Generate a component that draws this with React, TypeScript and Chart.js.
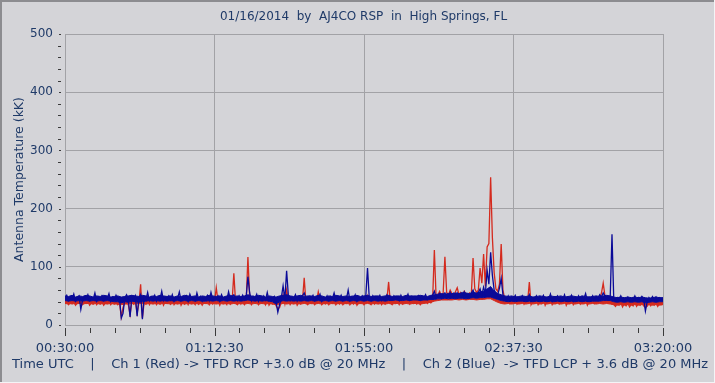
import React, { useEffect, useRef } from "react";
import { Chart, registerables } from "chart.js";

Chart.register(...registerables);

// ---- Data ----
const TITLE = "01/16/2014  by  AJ4CO RSP  in  High Springs, FL";
const CAPTION =
  "Time UTC    |    Ch 1 (Red) -> TFD RCP +3.0 dB @ 20 MHz    |    Ch 2 (Blue)  -> TFD LCP + 3.6 dB @ 20 MHz";
const Y_TITLE = "Antenna Temperature (kK)";

// minutes after 00:30:00 UTC of the labelled x ticks
const xMajorMinutes = [0, 42.5, 85, 127.5, 170];
const xTickLabels = ["00:30:00", "01:12:30", "01:55:00", "02:37:30", "03:20:00"];
const xMinorPerMajor = 6;

const yMin = 0;
const yMax = 500;
const yMinorStep = 20;
const yLabelStep = 100;

// trace samples: one every half minute, starting at 00:30:00
const SAMPLE_STEP_MIN = 0.5;
// noise band (min / max envelope): one every minute
const BAND_STEP_MIN = 1;

// Ch 2 (Blue) -> TFD LCP, kK
const blueValues = [
  45, 51, 42, 48, 44, 53, 41, 47, 50, 27, 43, 49, 45, 52, 42, 47, 44, 55, 41, 48,
  44, 50, 42, 47, 45, 54, 41, 48, 43, 51, 44, 46, 12, 20, 47, 52, 43, 14, 49, 44,
  50, 15, 46, 52, 10, 48, 43, 56, 42, 49, 45, 51, 41, 47, 44, 58, 42, 48, 45, 50,
  43, 52, 41, 47, 45, 57, 42, 48, 44, 50, 41, 53, 45, 47, 42, 55, 44, 49, 41, 48,
  45, 51, 42, 56, 44, 48, 46, 50, 41, 52, 45, 47, 43, 57, 44, 49, 52, 46, 42, 50,
  44, 51, 43, 48, 83, 55, 42, 49, 46, 53, 41, 48, 45, 50, 43, 56, 42, 47, 44, 49,
  40, 22, 35, 47, 67, 44, 93, 50, 42, 48, 45, 52, 41, 47, 44, 50, 55, 46, 43, 49,
  45, 51, 42, 48, 46, 53, 41, 47, 44, 50, 42, 49, 45, 55, 43, 48, 44, 51, 42, 47,
  45, 60, 42, 48, 44, 52, 41, 47, 45, 50, 43, 49, 98, 46, 42, 50, 44, 48, 45, 51,
  42, 47, 44, 52, 48, 46, 43, 50, 45, 48, 42, 51, 44, 47, 46, 53, 43, 49, 45, 48,
  44, 50, 43, 49, 46, 52, 44, 48, 45, 51, 58, 47, 49, 54, 46, 52, 55, 48, 50, 56,
  48, 54, 47, 55, 50, 53, 48, 57, 49, 52, 47, 55, 60, 50, 48, 56, 62, 51, 65, 54,
  94, 70, 125, 85, 60, 55, 52, 63, 80, 52, 47, 44, 50, 42, 48, 45, 51, 43, 47, 44,
  50, 42, 48, 45, 52, 41, 47, 44, 50, 43, 49, 45, 51, 42, 47, 44, 53, 41, 48, 45,
  50, 43, 47, 44, 52, 42, 48, 45, 51, 41, 47, 44, 50, 43, 49, 45, 54, 42, 48, 44,
  50, 43, 49, 46, 52, 48, 55, 50, 47, 44, 49, 156, 45, 41, 47, 44, 50, 42, 46, 43,
  48, 41, 46, 43, 50, 42, 47, 44, 49, 45, 24, 40, 47, 43, 49, 44, 48, 42, 47, 45,
  46,
];

// Ch 1 (Red) -> TFD RCP, kK
const redValues = [
  37, 40, 35, 39, 36, 41, 34, 38, 40, 36, 35, 39, 37, 41, 34, 38, 36, 42, 35, 39,
  36, 40, 34, 38, 37, 42, 35, 39, 36, 40, 35, 38, 14, 30, 38, 41, 35, 18, 40, 36,
  40, 20, 37, 70, 12, 39, 36, 44, 35, 40, 37, 42, 35, 39, 36, 45, 34, 40, 37, 41,
  36, 42, 35, 39, 37, 44, 34, 40, 36, 41, 35, 43, 37, 39, 35, 44, 36, 40, 34, 39,
  37, 41, 35, 43, 36, 39, 64, 41, 34, 42, 37, 39, 35, 44, 36, 40, 89, 38, 35, 41,
  36, 42, 35, 40, 117, 48, 35, 40, 38, 43, 35, 39, 37, 41, 35, 45, 34, 39, 36, 40,
  33, 28, 30, 39, 52, 37, 60, 41, 35, 40, 37, 43, 34, 39, 36, 41, 81, 38, 35, 40,
  37, 42, 35, 40, 57, 43, 35, 39, 36, 41, 35, 40, 37, 44, 35, 40, 36, 42, 35, 39,
  37, 45, 35, 40, 36, 43, 34, 39, 37, 41, 35, 40, 50, 38, 35, 41, 36, 40, 37, 42,
  35, 39, 36, 43, 74, 38, 35, 41, 37, 40, 35, 42, 36, 39, 38, 44, 36, 41, 37, 40,
  36, 41, 35, 40, 38, 43, 37, 40, 38, 42, 129, 47, 52, 58, 50, 55, 117, 56, 52, 60,
  54, 50, 57, 64, 52, 56, 50, 58, 53, 49, 55, 51, 115, 62, 56, 60, 98, 72, 122, 66,
  134, 140, 254, 150, 90, 62, 58, 70, 139, 60, 45, 40, 44, 37, 42, 39, 45, 36, 41, 38,
  44, 36, 42, 39, 74, 35, 41, 38, 44, 35, 40, 37, 45, 34, 41, 38, 44, 35, 40, 37,
  43, 36, 40, 38, 45, 34, 41, 37, 44, 35, 40, 38, 43, 36, 41, 37, 45, 34, 40, 38,
  43, 37, 41, 39, 45, 55, 72, 50, 40, 38, 41, 36, 35, 32, 38, 34, 39, 31, 37, 33,
  38, 31, 36, 33, 40, 32, 37, 34, 39, 33, 30, 32, 37, 33, 39, 34, 38, 32, 37, 35,
  36,
];

// Blue noise band, upper edge (per minute)
const blueBandHi = [
  50, 49, 51, 48, 50, 49, 51, 50, 48, 50,
  49, 51, 50, 48, 49, 50, 48, 49, 50, 51,
  50, 49, 51, 50, 48, 50, 49, 51, 50, 49,
  50, 48, 50, 49, 51, 50, 49, 50, 48, 50,
  49, 51, 50, 49, 50, 48, 50, 51, 49, 50,
  49, 50, 52, 50, 49, 51, 50, 48, 50, 49,
  48, 50, 51, 52, 50, 49, 50, 51, 49, 50,
  50, 49, 51, 50, 48, 50, 49, 51, 50, 49,
  50, 49, 50, 51, 49, 50, 51, 49, 50, 50,
  49, 50, 51, 49, 50, 50, 49, 51, 50, 50,
  50, 51, 50, 49, 51, 52, 53, 54, 53, 54,
  54, 55, 54, 56, 55, 54, 56, 55, 57, 58,
  62, 66, 58, 54, 52, 50, 49, 50, 48, 49,
  50, 49, 50, 48, 49, 50, 49, 48, 50, 49,
  49, 50, 48, 49, 50, 49, 48, 50, 49, 48,
  49, 50, 49, 50, 51, 50, 48, 47, 48, 47,
  48, 47, 48, 47, 48, 47, 46, 47, 48, 47,
  47,
];

// Blue noise band, lower edge (per minute)
const blueBandLo = [
  42, 41, 42, 41, 42, 41, 42, 41, 42, 41,
  42, 41, 42, 41, 40, 40, 38, 40, 39, 41,
  40, 39, 40, 41, 42, 41, 42, 41, 42, 41,
  42, 41, 42, 41, 42, 41, 42, 41, 42, 41,
  41, 42, 41, 42, 41, 42, 41, 42, 41, 42,
  41, 42, 43, 42, 41, 42, 41, 42, 41, 40,
  36, 40, 42, 41, 42, 41, 42, 41, 42, 41,
  42, 41, 42, 41, 42, 41, 42, 41, 42, 41,
  42, 41, 42, 41, 42, 41, 42, 41, 42, 41,
  42, 41, 42, 42, 43, 42, 42, 43, 42, 43,
  43, 42, 43, 43, 44, 44, 45, 45, 46, 45,
  46, 45, 46, 46, 45, 46, 47, 46, 47, 47,
  48, 48, 46, 44, 42, 41, 40, 41, 40, 41,
  41, 40, 41, 40, 41, 40, 41, 40, 41, 40,
  41, 40, 41, 40, 41, 40, 41, 40, 41, 40,
  41, 41, 41, 42, 42, 42, 40, 39, 40, 39,
  40, 39, 40, 39, 40, 38, 39, 40, 39, 40,
  40,
];

// Red noise band, lower edge (per minute)
const redBandLo = [
  37, 36, 37, 36, 37, 36, 37, 37, 36, 37,
  36, 37, 36, 37, 36, 36, 35, 36, 36, 37,
  36, 37, 37, 36, 37, 36, 37, 36, 37, 37,
  36, 37, 36, 37, 36, 37, 36, 37, 36, 37,
  37, 36, 37, 36, 37, 36, 37, 36, 37, 36,
  37, 36, 37, 36, 37, 36, 37, 36, 37, 36,
  35, 36, 37, 36, 37, 36, 37, 36, 37, 36,
  37, 36, 37, 36, 37, 36, 37, 36, 37, 36,
  37, 36, 37, 36, 37, 36, 37, 36, 37, 36,
  37, 36, 37, 36, 37, 37, 36, 37, 36, 37,
  37, 36, 37, 38, 39, 41, 42, 43, 43, 43,
  43, 44, 43, 44, 43, 44, 44, 43, 44, 44,
  45, 45, 42, 39, 37, 36, 37, 36, 37, 36,
  37, 36, 37, 36, 37, 36, 37, 36, 37, 36,
  37, 36, 37, 36, 37, 36, 37, 36, 37, 36,
  37, 36, 37, 36, 37, 36, 35, 34, 35, 34,
  35, 34, 35, 34, 35, 34, 35, 34, 35, 34,
  35,
];

// ---- Styles ----
const BG = "#d4d4d8";
const TEXT = "#1f3a68";
const GRID = "#a2a2a6";
const TICK_MARK = "#3a3a3a";
const BLUE = "#0a0a98";
const RED = "#d42a1e";
const FONT = "'DejaVu Sans', Verdana, sans-serif";

const toPoints = (vals: number[], step: number) =>
  vals.map((v, i) => ({ x: i * step, y: v }));

function buildXTicks(): number[] {
  const out: number[] = [];
  for (let m = 0; m < xMajorMinutes.length - 1; m++) {
    const a = xMajorMinutes[m];
    const b = xMajorMinutes[m + 1];
    for (let k = 0; k < xMinorPerMajor; k++) out.push(a + ((b - a) * k) / xMinorPerMajor);
  }
  out.push(xMajorMinutes[xMajorMinutes.length - 1]);
  return out;
}

const framePlugin = {
  id: "frame",
  beforeDraw(chart: any) {
    const { ctx, width, height } = chart;
    ctx.save();
    ctx.fillStyle = BG;
    ctx.fillRect(0, 0, width, height);
    ctx.fillStyle = "#8c8c90";
    ctx.fillRect(0, 0, width, 2);
    ctx.fillRect(0, 0, 2, height);
    ctx.fillStyle = "#f4f4f6";
    ctx.fillRect(0, height - 1, width, 1);
    ctx.fillRect(width - 1, 0, 1, height);
    ctx.restore();
  },
  beforeDatasetsDraw(chart: any) {
    const { ctx, chartArea } = chart;
    ctx.save();
    ctx.strokeStyle = GRID;
    ctx.lineWidth = 1;
    ctx.strokeRect(
      Math.round(chartArea.left) + 0.5,
      Math.round(chartArea.top) + 0.5,
      Math.round(chartArea.right - chartArea.left),
      Math.round(chartArea.bottom - chartArea.top)
    );
    ctx.restore();
  },
  afterDraw(chart: any) {
    const { ctx, chartArea, scales } = chart;
    ctx.save();
    ctx.fillStyle = TICK_MARK;
    const ys = scales.y;
    ys.ticks.forEach((t: any) => {
      const py = Math.round(ys.getPixelForValue(t.value));
      const major = t.value % yLabelStep === 0;
      const x0 = Math.round(chartArea.left) - 7;
      ctx.fillRect(x0 + (major ? 1 : 0), py, major ? 2 : 3, 1);
    });
    const xs = scales.x;
    xs.ticks.forEach((t: any, i: number) => {
      const px = Math.round(xs.getPixelForValue(t.value));
      const major = i % xMinorPerMajor === 0;
      const y0 = Math.round(chartArea.bottom) + 3;
      ctx.fillRect(px, y0, 1, major ? 8 : 5);
    });
    ctx.restore();
  },
};

export default function App() {
  const ref = useRef<HTMLCanvasElement | null>(null);

  useEffect(() => {
    document.body.style.margin = "0";
    document.body.style.background = BG;
    const canvas = ref.current;
    if (!canvas) return;
    Chart.defaults.font.family = FONT;
    const xTicks = buildXTicks();

    const line = (extra: any) => ({
      pointRadius: 0,
      tension: 0,
      fill: false,
      borderJoinStyle: "miter",
      ...extra,
    });

    const chart = new Chart(canvas, {
      type: "line",
      data: {
        datasets: [
          // 0: blue trace (top)
          line({
            label: "Ch 2 (Blue)",
            data: toPoints(blueValues, SAMPLE_STEP_MIN),
            borderColor: BLUE,
            borderWidth: 1.3,
            order: 0,
          }),
          // 1,2: blue noise band
          line({
            label: "Ch 2 band hi",
            data: toPoints(blueBandHi, BAND_STEP_MIN),
            borderColor: BLUE,
            backgroundColor: BLUE,
            borderWidth: 1,
            fill: 2,
            order: 1,
          }),
          line({
            label: "Ch 2 band lo",
            data: toPoints(blueBandLo, BAND_STEP_MIN),
            borderColor: BLUE,
            borderWidth: 1,
            order: 1,
          }),
          // 3: red trace
          line({
            label: "Ch 1 (Red)",
            data: toPoints(redValues, SAMPLE_STEP_MIN),
            borderColor: RED,
            borderWidth: 1.3,
            order: 2,
          }),
          // 4: red noise band lower edge, filled up to the blue band
          line({
            label: "Ch 1 band lo",
            data: toPoints(redBandLo, BAND_STEP_MIN),
            borderColor: RED,
            backgroundColor: RED,
            borderWidth: 1,
            fill: 2,
            order: 3,
          }),
        ],
      },
      options: {
        animation: false,
        responsive: false,
        events: [],
        layout: { padding: { left: 12, right: 0, top: 0, bottom: 0 } },
        plugins: {
          legend: { display: false },
          tooltip: { enabled: false },
          title: {
            display: true,
            text: TITLE,
            color: TEXT,
            font: { family: FONT, size: 12, weight: "normal" },
            padding: { top: 10, bottom: 9.6 },
          },
          subtitle: {
            display: true,
            position: "bottom",
            align: "start",
            text: CAPTION,
            color: TEXT,
            font: { family: FONT, size: 13, weight: "normal" },
            padding: { top: 0, bottom: 10.2 },
          },
        },
        scales: {
          x: {
            type: "linear",
            min: xMajorMinutes[0],
            max: xMajorMinutes[xMajorMinutes.length - 1],
            afterBuildTicks: (scale: any) => {
              scale.ticks = xTicks.map((v) => ({ value: v }));
            },
            afterFit: (scale: any) => {
              scale.height = 32.2;
            },
            border: { display: false },
            grid: {
              drawTicks: false,
              color: (c: any) =>
                c.index % xMinorPerMajor === 0 ? GRID : "rgba(0,0,0,0)",
            },
            ticks: {
              autoSkip: false,
              maxRotation: 0,
              padding: 16,
              color: TEXT,
              font: { family: FONT, size: 13 },
              callback: (_v: any, i: number) =>
                i % xMinorPerMajor === 0 ? xTickLabels[i / xMinorPerMajor] : "",
            },
          },
          y: {
            type: "linear",
            position: "left",
            min: yMin,
            max: yMax,
            afterFit: (scale: any) => {
              scale.width = 53;
            },
            border: { display: false },
            grid: {
              drawTicks: false,
              color: (c: any) =>
                c.tick && c.tick.value % yLabelStep === 0 ? GRID : "rgba(0,0,0,0)",
            },
            ticks: {
              stepSize: yMinorStep,
              autoSkip: false,
              padding: 12,
              color: TEXT,
              font: { family: FONT, size: 12 },
              callback: (v: any) => (Number(v) % yLabelStep === 0 ? String(v) : ""),
            },
            title: {
              display: true,
              text: Y_TITLE,
              color: TEXT,
              font: { family: FONT, size: 12.5, weight: "normal", lineHeight: 1.2 },
              padding: { top: 0, bottom: 0 },
            },
          },
          y2: {
            type: "linear",
            position: "right",
            display: true,
            afterFit: (scale: any) => {
              scale.width = 52;
            },
            border: { display: false },
            grid: { display: false, drawTicks: false },
            ticks: { display: false },
          },
        },
      },
      plugins: [framePlugin],
    } as any);

    return () => chart.destroy();
  }, []);

  return (
    <div style={{ width: 715, height: 383, background: BG }}>
      <canvas ref={ref} width={715} height={383} style={{ display: "block" }} />
    </div>
  );
}
